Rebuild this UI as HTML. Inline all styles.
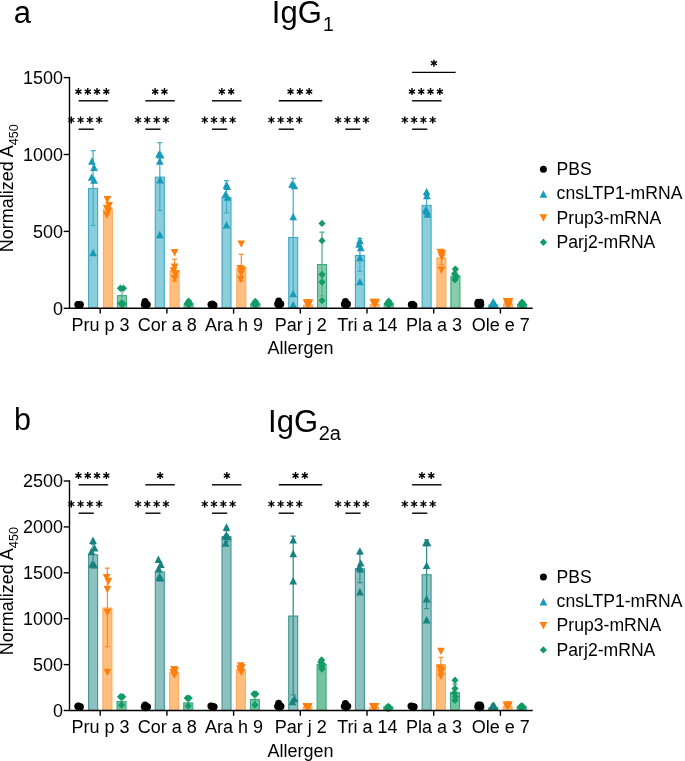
<!DOCTYPE html>
<html lang="en"><head><meta charset="utf-8"><title>IgG1 / IgG2a normalized A450 by allergen</title>
<style>html,body{margin:0;padding:0;background:#fff}body{width:685px;height:761px;overflow:hidden}svg{display:block;will-change:transform}text{font-family:'Liberation Sans', sans-serif;fill:#000}</style>
</head><body>
<svg width="685" height="761" viewBox="0 0 685 761">
<rect width="685" height="761" fill="#fff"/>
<text x="13.7" y="22.5" font-size="31">a</text>
<text x="13.9" y="430.2" font-size="30.5">b</text>
<text x="271.8" y="23.2" font-size="31">IgG<tspan font-size="19.4" dy="8" dx="1.2">1</tspan></text>
<text x="268.1" y="431.6" font-size="31">IgG<tspan font-size="20" dy="8.1" dx="0.6">2a</tspan></text>
<circle cx="77.8" cy="304.61" r="3.5" fill="#000000"/>
<circle cx="80.4" cy="304.61" r="3.5" fill="#000000"/>
<circle cx="79.1" cy="304.92" r="3.5" fill="#000000"/>
<circle cx="78.5" cy="305.53" r="3.5" fill="#000000"/>
<circle cx="79.7" cy="305.53" r="3.5" fill="#000000"/>
<rect x="88.6" y="188.42" width="9" height="119.88" fill="#8ACEDB" stroke="#3FA8C2" stroke-width="1.1"/>
<path d="M93.1 150.5V225.25M90.6 150.5H95.6M90.6 225.25H95.6" stroke="#45AECA" stroke-width="1.25" fill="none" opacity="1"/>
<path d="M91.9 157.32L95.75 164.72L88.05 164.72Z" fill="#189BB9"/>
<path d="M94.1 163.63L97.95 171.03L90.25 171.03Z" fill="#189BB9"/>
<path d="M91.6 173.47L95.45 180.87L87.75 180.87Z" fill="#189BB9"/>
<path d="M94.1 176.24L97.95 183.64L90.25 183.64Z" fill="#189BB9"/>
<path d="M93.1 248.83L96.95 256.23L89.25 256.23Z" fill="#189BB9"/>
<rect x="103.4" y="209.19" width="9" height="99.11" fill="#FEBF7E" stroke="#FDAA5E" stroke-width="1.1"/>
<path d="M107.9 202.79V214.48M105.4 202.79H110.4M105.4 214.48H110.4" stroke="#FB8F2E" stroke-width="1.25" fill="none" opacity="1"/>
<path d="M107.4 203.51L111.25 196.11L103.55 196.11Z" fill="#FF7F0E"/>
<path d="M109.2 209.35L113.05 201.95L105.35 201.95Z" fill="#FF7F0E"/>
<path d="M106.7 212.12L110.55 204.72L102.85 204.72Z" fill="#FF7F0E"/>
<path d="M108.4 214.74L112.25 207.34L104.55 207.34Z" fill="#FF7F0E"/>
<path d="M106.7 218.89L110.55 211.49L102.85 211.49Z" fill="#FF7F0E"/>
<rect x="117.4" y="295.62" width="9" height="12.68" fill="#86CBAD" stroke="#3BAA7C" stroke-width="1.1"/>
<path d="M121.9 288.15V301.99M119.4 288.15H124.4M119.4 301.99H124.4" stroke="#4DB289" stroke-width="1.25" fill="none" opacity="1"/>
<path d="M120.4 284.61L124 288.31L120.4 292.01L116.8 288.31Z" fill="#119C66"/>
<path d="M123.4 284.61L127 288.31L123.4 292.01L119.8 288.31Z" fill="#119C66"/>
<path d="M120.9 299.68L124.5 303.38L120.9 307.08L117.3 303.38Z" fill="#119C66"/>
<path d="M122.9 299.99L126.5 303.69L122.9 307.39L119.3 303.69Z" fill="#119C66"/>
<path d="M121.9 300.29L125.5 303.99L121.9 307.69L118.3 303.99Z" fill="#119C66"/>
<circle cx="145" cy="301.38" r="3.5" fill="#000000"/>
<circle cx="144.3" cy="304.45" r="3.5" fill="#000000"/>
<circle cx="147.3" cy="304.45" r="3.5" fill="#000000"/>
<circle cx="145.8" cy="305.53" r="3.5" fill="#000000"/>
<rect x="155.3" y="177.2" width="9" height="131.1" fill="#8ACEDB" stroke="#3FA8C2" stroke-width="1.1"/>
<path d="M159.8 142.66V210.64M157.3 142.66H162.3M157.3 210.64H162.3" stroke="#45AECA" stroke-width="1.25" fill="none" opacity="1"/>
<path d="M159 150.4L162.85 157.8L155.15 157.8Z" fill="#189BB9"/>
<path d="M160.6 151.02L164.45 158.42L156.75 158.42Z" fill="#189BB9"/>
<path d="M159.8 157.32L163.65 164.72L155.95 164.72Z" fill="#189BB9"/>
<path d="M160.1 176.08L163.95 183.48L156.25 183.48Z" fill="#189BB9"/>
<path d="M159.8 230.84L163.65 238.24L155.95 238.24Z" fill="#189BB9"/>
<rect x="170.1" y="270.55" width="9" height="37.75" fill="#FEBF7E" stroke="#FDAA5E" stroke-width="1.1"/>
<path d="M174.6 259.08V280.92M172.1 259.08H177.1M172.1 280.92H177.1" stroke="#FB8F2E" stroke-width="1.25" fill="none" opacity="1"/>
<path d="M174.6 256.42L178.45 249.02L170.75 249.02Z" fill="#FF7F0E"/>
<path d="M174.6 270.87L178.45 263.47L170.75 263.47Z" fill="#FF7F0E"/>
<path d="M173.6 274.72L177.45 267.32L169.75 267.32Z" fill="#FF7F0E"/>
<path d="M175.6 277.8L179.45 270.39L171.75 270.39Z" fill="#FF7F0E"/>
<path d="M174.6 282.41L178.45 275.01L170.75 275.01Z" fill="#FF7F0E"/>
<rect x="184.1" y="304.24" width="9" height="4.06" fill="#86CBAD" stroke="#3BAA7C" stroke-width="1.1"/>
<path d="M188.6 302.15V305.22M186.1 302.15H191.1M186.1 305.22H191.1" stroke="#4DB289" stroke-width="1.25" fill="none" opacity="1"/>
<path d="M188.6 297.53L192.2 301.23L188.6 304.93L185 301.23Z" fill="#119C66"/>
<path d="M187.2 299.68L190.8 303.38L187.2 307.08L183.6 303.38Z" fill="#119C66"/>
<path d="M190 299.68L193.6 303.38L190 307.08L186.4 303.38Z" fill="#119C66"/>
<path d="M187.9 300.6L191.5 304.3L187.9 308L184.3 304.3Z" fill="#119C66"/>
<path d="M189.3 300.6L192.9 304.3L189.3 308L185.7 304.3Z" fill="#119C66"/>
<circle cx="211" cy="304.45" r="3.5" fill="#000000"/>
<circle cx="214" cy="305.22" r="3.5" fill="#000000"/>
<circle cx="212.5" cy="303.99" r="3.5" fill="#000000"/>
<circle cx="211.75" cy="304.92" r="3.5" fill="#000000"/>
<circle cx="213.25" cy="305.53" r="3.5" fill="#000000"/>
<rect x="222" y="197.35" width="9" height="110.95" fill="#8ACEDB" stroke="#3FA8C2" stroke-width="1.1"/>
<path d="M226.5 180.65V212.94M224 180.65H229M224 212.94H229" stroke="#45AECA" stroke-width="1.25" fill="none" opacity="1"/>
<path d="M226.5 181.16L230.35 188.56L222.65 188.56Z" fill="#189BB9"/>
<path d="M227.3 182.7L231.15 190.1L223.45 190.1Z" fill="#189BB9"/>
<path d="M225.5 190.39L229.35 197.79L221.65 197.79Z" fill="#189BB9"/>
<path d="M227.5 193.46L231.35 200.86L223.65 200.86Z" fill="#189BB9"/>
<path d="M226.5 221.15L230.35 228.55L222.65 228.55Z" fill="#189BB9"/>
<rect x="236.8" y="268.09" width="9" height="40.21" fill="#FEBF7E" stroke="#FDAA5E" stroke-width="1.1"/>
<path d="M241.3 254.47V280.62M238.8 254.47H243.8M238.8 280.62H243.8" stroke="#FB8F2E" stroke-width="1.25" fill="none" opacity="1"/>
<path d="M241.3 247.8L245.15 240.4L237.45 240.4Z" fill="#FF7F0E"/>
<path d="M240.3 272.41L244.15 265.01L236.45 265.01Z" fill="#FF7F0E"/>
<path d="M242.3 273.95L246.15 266.55L238.45 266.55Z" fill="#FF7F0E"/>
<path d="M241.3 277.03L245.15 269.63L237.45 269.63Z" fill="#FF7F0E"/>
<path d="M240.8 283.18L244.65 275.78L236.95 275.78Z" fill="#FF7F0E"/>
<rect x="250.8" y="304.24" width="9" height="4.06" fill="#86CBAD" stroke="#3BAA7C" stroke-width="1.1"/>
<path d="M255.3 302.15V305.22M252.8 302.15H257.8M252.8 305.22H257.8" stroke="#4DB289" stroke-width="1.25" fill="none" opacity="1"/>
<path d="M255.3 297.83L258.9 301.53L255.3 305.23L251.7 301.53Z" fill="#119C66"/>
<path d="M253.9 299.99L257.5 303.69L253.9 307.39L250.3 303.69Z" fill="#119C66"/>
<path d="M256.7 299.99L260.3 303.69L256.7 307.39L253.1 303.69Z" fill="#119C66"/>
<path d="M254.6 300.91L258.2 304.61L254.6 308.31L251 304.61Z" fill="#119C66"/>
<path d="M256 300.91L259.6 304.61L256 308.31L252.4 304.61Z" fill="#119C66"/>
<circle cx="278.7" cy="300.92" r="3.5" fill="#000000"/>
<circle cx="277.6" cy="303.99" r="3.5" fill="#000000"/>
<circle cx="280.8" cy="303.99" r="3.5" fill="#000000"/>
<circle cx="279.2" cy="305.53" r="3.5" fill="#000000"/>
<rect x="288.7" y="237.49" width="9" height="70.81" fill="#8ACEDB" stroke="#3FA8C2" stroke-width="1.1"/>
<path d="M293.2 178.34V295.53M290.7 178.34H295.7M290.7 295.53H295.7" stroke="#45AECA" stroke-width="1.25" fill="none" opacity="1"/>
<path d="M292 180.39L295.85 187.79L288.15 187.79Z" fill="#189BB9"/>
<path d="M294.3 181.93L298.15 189.33L290.45 189.33Z" fill="#189BB9"/>
<path d="M293.2 212.84L297.05 220.24L289.35 220.24Z" fill="#189BB9"/>
<path d="M293.2 289.9L297.05 297.3L289.35 297.3Z" fill="#189BB9"/>
<path d="M293.2 300.97L297.05 308.37L289.35 308.37Z" fill="#189BB9"/>
<rect x="303.5" y="305" width="9" height="3.3" fill="#FEBF7E" stroke="#FDAA5E" stroke-width="1.1"/>
<path d="M308 303.22V305.69M305.5 303.22H310.5M305.5 305.69H310.5" stroke="#FB8F2E" stroke-width="1.25" fill="none" opacity="1"/>
<path d="M306.6 306.56L310.45 299.16L302.75 299.16Z" fill="#FF7F0E"/>
<path d="M309.4 306.56L313.25 299.16L305.55 299.16Z" fill="#FF7F0E"/>
<path d="M308 307.02L311.85 299.62L304.15 299.62Z" fill="#FF7F0E"/>
<path d="M307.3 307.79L311.15 300.39L303.45 300.39Z" fill="#FF7F0E"/>
<path d="M308.7 308.09L312.55 300.69L304.85 300.69Z" fill="#FF7F0E"/>
<rect x="317.5" y="264.56" width="9" height="43.74" fill="#86CBAD" stroke="#3BAA7C" stroke-width="1.1"/>
<path d="M322 232.17V295.84M319.5 232.17H324.5M319.5 295.84H324.5" stroke="#4DB289" stroke-width="1.25" fill="none" opacity="1"/>
<path d="M322 219.7L325.6 223.4L322 227.1L318.4 223.4Z" fill="#119C66"/>
<path d="M322 236.93L325.6 240.63L322 244.33L318.4 240.63Z" fill="#119C66"/>
<path d="M322 270.76L325.6 274.46L322 278.16L318.4 274.46Z" fill="#119C66"/>
<path d="M322 278.3L325.6 282L322 285.7L318.4 282Z" fill="#119C66"/>
<path d="M322 296.91L325.6 300.61L322 304.31L318.4 300.61Z" fill="#119C66"/>
<circle cx="345.4" cy="301.38" r="3.5" fill="#000000"/>
<circle cx="344.3" cy="303.99" r="3.5" fill="#000000"/>
<circle cx="347.5" cy="303.99" r="3.5" fill="#000000"/>
<circle cx="345.9" cy="305.53" r="3.5" fill="#000000"/>
<rect x="355.4" y="255.48" width="9" height="52.82" fill="#8ACEDB" stroke="#3FA8C2" stroke-width="1.1"/>
<path d="M359.9 238.47V271.39M357.4 238.47H362.4M357.4 271.39H362.4" stroke="#45AECA" stroke-width="1.25" fill="none" opacity="1"/>
<path d="M359.9 236.84L363.75 244.24L356.05 244.24Z" fill="#189BB9"/>
<path d="M359.1 240.37L362.95 247.77L355.25 247.77Z" fill="#189BB9"/>
<path d="M360.7 243.91L364.55 251.31L356.85 251.31Z" fill="#189BB9"/>
<path d="M359.9 253.91L363.75 261.31L356.05 261.31Z" fill="#189BB9"/>
<path d="M359.9 277.9L363.75 285.3L356.05 285.3Z" fill="#189BB9"/>
<rect x="370.2" y="304.24" width="9" height="4.06" fill="#FEBF7E" stroke="#FDAA5E" stroke-width="1.1"/>
<path d="M374.7 302.46V304.92M372.2 302.46H377.2M372.2 304.92H377.2" stroke="#FB8F2E" stroke-width="1.25" fill="none" opacity="1"/>
<path d="M373.3 306.25L377.15 298.85L369.45 298.85Z" fill="#FF7F0E"/>
<path d="M376.1 306.25L379.95 298.85L372.25 298.85Z" fill="#FF7F0E"/>
<path d="M374.7 306.71L378.55 299.31L370.85 299.31Z" fill="#FF7F0E"/>
<path d="M374 307.48L377.85 300.08L370.15 300.08Z" fill="#FF7F0E"/>
<path d="M375.4 307.79L379.25 300.39L371.55 300.39Z" fill="#FF7F0E"/>
<rect x="384.2" y="303.93" width="9" height="4.37" fill="#86CBAD" stroke="#3BAA7C" stroke-width="1.1"/>
<path d="M388.7 301.84V304.92M386.2 301.84H391.2M386.2 304.92H391.2" stroke="#4DB289" stroke-width="1.25" fill="none" opacity="1"/>
<path d="M388.7 297.53L392.3 301.23L388.7 304.93L385.1 301.23Z" fill="#119C66"/>
<path d="M387.3 299.68L390.9 303.38L387.3 307.08L383.7 303.38Z" fill="#119C66"/>
<path d="M390.1 299.68L393.7 303.38L390.1 307.08L386.5 303.38Z" fill="#119C66"/>
<path d="M388 300.6L391.6 304.3L388 308L384.4 304.3Z" fill="#119C66"/>
<path d="M389.4 300.6L393 304.3L389.4 308L385.8 304.3Z" fill="#119C66"/>
<circle cx="411.3" cy="304.45" r="3.5" fill="#000000"/>
<circle cx="413.9" cy="305.22" r="3.5" fill="#000000"/>
<circle cx="412.6" cy="304.3" r="3.5" fill="#000000"/>
<circle cx="411.95" cy="304.92" r="3.5" fill="#000000"/>
<circle cx="413.25" cy="305.53" r="3.5" fill="#000000"/>
<rect x="422.1" y="205.34" width="9" height="102.96" fill="#8ACEDB" stroke="#3FA8C2" stroke-width="1.1"/>
<path d="M426.6 195.26V214.33M424.1 195.26H429.1M424.1 214.33H429.1" stroke="#45AECA" stroke-width="1.25" fill="none" opacity="1"/>
<path d="M426.6 187.93L430.45 195.33L422.75 195.33Z" fill="#189BB9"/>
<path d="M426.9 191.93L430.75 199.33L423.05 199.33Z" fill="#189BB9"/>
<path d="M425.8 205.77L429.65 213.17L421.95 213.17Z" fill="#189BB9"/>
<path d="M427.4 210.38L431.25 217.78L423.55 217.78Z" fill="#189BB9"/>
<path d="M426.8 207.31L430.65 214.71L422.95 214.71Z" fill="#189BB9"/>
<rect x="436.9" y="257.94" width="9" height="50.36" fill="#FEBF7E" stroke="#FDAA5E" stroke-width="1.1"/>
<path d="M441.4 250.47V264.31M438.9 250.47H443.9M438.9 264.31H443.9" stroke="#FB8F2E" stroke-width="1.25" fill="none" opacity="1"/>
<path d="M440.4 256.26L444.25 248.86L436.55 248.86Z" fill="#FF7F0E"/>
<path d="M442.4 257.03L446.25 249.63L438.55 249.63Z" fill="#FF7F0E"/>
<path d="M441.4 259.34L445.25 251.94L437.55 251.94Z" fill="#FF7F0E"/>
<path d="M441.4 273.95L445.25 266.55L437.55 266.55Z" fill="#FF7F0E"/>
<path d="M441.9 260.88L445.75 253.48L438.05 253.48Z" fill="#FF7F0E"/>
<rect x="450.9" y="276.09" width="9" height="32.21" fill="#86CBAD" stroke="#3BAA7C" stroke-width="1.1"/>
<path d="M455.4 270.93V280.15M452.9 270.93H457.9M452.9 280.15H457.9" stroke="#4DB289" stroke-width="1.25" fill="none" opacity="1"/>
<path d="M455.4 265.38L459 269.08L455.4 272.78L451.8 269.08Z" fill="#119C66"/>
<path d="M454.6 270L458.2 273.69L454.6 277.39L451 273.69Z" fill="#119C66"/>
<path d="M456.2 272.3L459.8 276L456.2 279.7L452.6 276Z" fill="#119C66"/>
<path d="M455.4 274.61L459 278.31L455.4 282.01L451.8 278.31Z" fill="#119C66"/>
<path d="M454.9 276.15L458.5 279.85L454.9 283.55L451.3 279.85Z" fill="#119C66"/>
<circle cx="478" cy="302.15" r="3.5" fill="#000000"/>
<circle cx="480.6" cy="302.15" r="3.5" fill="#000000"/>
<circle cx="477.8" cy="304.45" r="3.5" fill="#000000"/>
<circle cx="480.8" cy="304.45" r="3.5" fill="#000000"/>
<circle cx="479.3" cy="305.53" r="3.5" fill="#000000"/>
<rect x="488.8" y="305" width="9" height="3.3" fill="#8ACEDB" stroke="#3FA8C2" stroke-width="1.1"/>
<path d="M493.3 303.22V305.69M490.8 303.22H495.8M490.8 305.69H495.8" stroke="#45AECA" stroke-width="1.25" fill="none" opacity="1"/>
<path d="M493.3 298.05L497.15 305.45L489.45 305.45Z" fill="#189BB9"/>
<path d="M492.1 299.89L495.95 307.29L488.25 307.29Z" fill="#189BB9"/>
<path d="M494.5 299.89L498.35 307.29L490.65 307.29Z" fill="#189BB9"/>
<path d="M493.3 300.82L497.15 308.22L489.45 308.22Z" fill="#189BB9"/>
<rect x="503.6" y="303.93" width="9" height="4.37" fill="#FEBF7E" stroke="#FDAA5E" stroke-width="1.1"/>
<path d="M508.1 302.15V304.61M505.6 302.15H510.6M505.6 304.61H510.6" stroke="#FB8F2E" stroke-width="1.25" fill="none" opacity="1"/>
<path d="M506.6 305.48L510.45 298.08L502.75 298.08Z" fill="#FF7F0E"/>
<path d="M509.6 305.48L513.45 298.08L505.75 298.08Z" fill="#FF7F0E"/>
<path d="M508.1 306.56L511.95 299.16L504.25 299.16Z" fill="#FF7F0E"/>
<path d="M507.2 308.09L511.05 300.69L503.35 300.69Z" fill="#FF7F0E"/>
<path d="M509 308.71L512.85 301.31L505.15 301.31Z" fill="#FF7F0E"/>
<rect x="517.6" y="304.54" width="9" height="3.76" fill="#86CBAD" stroke="#3BAA7C" stroke-width="1.1"/>
<path d="M522.1 302.76V305.22M519.6 302.76H524.6M519.6 305.22H524.6" stroke="#4DB289" stroke-width="1.25" fill="none" opacity="1"/>
<path d="M522.1 298.45L525.7 302.15L522.1 305.85L518.5 302.15Z" fill="#119C66"/>
<path d="M520.7 300.6L524.3 304.3L520.7 308L517.1 304.3Z" fill="#119C66"/>
<path d="M523.5 300.6L527.1 304.3L523.5 308L519.9 304.3Z" fill="#119C66"/>
<path d="M521.4 301.52L525 305.22L521.4 308.92L517.8 305.22Z" fill="#119C66"/>
<path d="M522.8 301.52L526.4 305.22L522.8 308.92L519.2 305.22Z" fill="#119C66"/>
<path d="M69.5 77.6V308.3H532" stroke="#000" stroke-width="1.4" fill="none" stroke-linecap="square"/>
<path d="M63.7 308.3H69.5" stroke="#000" stroke-width="1.4"/>
<text x="63.1" y="314.6" font-size="18" text-anchor="end">0</text>
<path d="M63.7 231.4H69.5" stroke="#000" stroke-width="1.4"/>
<text x="63.1" y="237.7" font-size="18" text-anchor="end">500</text>
<path d="M63.7 154.5H69.5" stroke="#000" stroke-width="1.4"/>
<text x="63.1" y="160.8" font-size="18" text-anchor="end">1000</text>
<path d="M63.7 77.6H69.5" stroke="#000" stroke-width="1.4"/>
<text x="63.1" y="83.9" font-size="18" text-anchor="end">1500</text>
<path d="M100.2 308.3V313.6" stroke="#000" stroke-width="1.4"/>
<text x="100.6" y="330.8" font-size="18" text-anchor="middle">Pru p 3</text>
<path d="M166.9 308.3V313.6" stroke="#000" stroke-width="1.4"/>
<text x="167.3" y="330.8" font-size="18" text-anchor="middle">Cor a 8</text>
<path d="M233.6 308.3V313.6" stroke="#000" stroke-width="1.4"/>
<text x="234" y="330.8" font-size="18" text-anchor="middle">Ara h 9</text>
<path d="M300.3 308.3V313.6" stroke="#000" stroke-width="1.4"/>
<text x="300.7" y="330.8" font-size="18" text-anchor="middle">Par j 2</text>
<path d="M367 308.3V313.6" stroke="#000" stroke-width="1.4"/>
<text x="367.4" y="330.8" font-size="18" text-anchor="middle">Tri a 14</text>
<path d="M433.7 308.3V313.6" stroke="#000" stroke-width="1.4"/>
<text x="434.1" y="330.8" font-size="18" text-anchor="middle">Pla a 3</text>
<path d="M500.4 308.3V313.6" stroke="#000" stroke-width="1.4"/>
<text x="500.8" y="330.8" font-size="18" text-anchor="middle">Ole e 7</text>
<text x="300.4" y="354.4" font-size="18" text-anchor="middle">Allergen</text>
<text transform="translate(13.1 252.3) rotate(-90)" font-size="18">Normalized A<tspan font-size="12.7" dy="5">450</tspan></text>
<path d="M78.6 129.2H93.8" stroke="#000" stroke-width="1.4"/>
<path d="M71.3 116.5L71.3 123.5M68.27 118.25L74.33 121.75M68.27 121.75L74.33 118.25" stroke="#000" stroke-width="1.4" fill="none"/>
<path d="M80.6 116.5L80.6 123.5M77.57 118.25L83.63 121.75M77.57 121.75L83.63 118.25" stroke="#000" stroke-width="1.4" fill="none"/>
<path d="M89.9 116.5L89.9 123.5M86.87 118.25L92.93 121.75M86.87 121.75L92.93 118.25" stroke="#000" stroke-width="1.4" fill="none"/>
<path d="M99.2 116.5L99.2 123.5M96.17 118.25L102.23 121.75M96.17 121.75L102.23 118.25" stroke="#000" stroke-width="1.4" fill="none"/>
<path d="M78.6 100.8H108.1" stroke="#000" stroke-width="1.4"/>
<path d="M78.45 88.1L78.45 95.1M75.42 89.85L81.48 93.35M75.42 93.35L81.48 89.85" stroke="#000" stroke-width="1.4" fill="none"/>
<path d="M87.75 88.1L87.75 95.1M84.72 89.85L90.78 93.35M84.72 93.35L90.78 89.85" stroke="#000" stroke-width="1.4" fill="none"/>
<path d="M97.05 88.1L97.05 95.1M94.02 89.85L100.08 93.35M94.02 93.35L100.08 89.85" stroke="#000" stroke-width="1.4" fill="none"/>
<path d="M106.35 88.1L106.35 95.1M103.32 89.85L109.38 93.35M103.32 93.35L109.38 89.85" stroke="#000" stroke-width="1.4" fill="none"/>
<path d="M145.3 129.2H160.5" stroke="#000" stroke-width="1.4"/>
<path d="M138 116.5L138 123.5M134.97 118.25L141.03 121.75M134.97 121.75L141.03 118.25" stroke="#000" stroke-width="1.4" fill="none"/>
<path d="M147.3 116.5L147.3 123.5M144.27 118.25L150.33 121.75M144.27 121.75L150.33 118.25" stroke="#000" stroke-width="1.4" fill="none"/>
<path d="M156.6 116.5L156.6 123.5M153.57 118.25L159.63 121.75M153.57 121.75L159.63 118.25" stroke="#000" stroke-width="1.4" fill="none"/>
<path d="M165.9 116.5L165.9 123.5M162.87 118.25L168.93 121.75M162.87 121.75L168.93 118.25" stroke="#000" stroke-width="1.4" fill="none"/>
<path d="M145.3 100.8H174.8" stroke="#000" stroke-width="1.4"/>
<path d="M155.15 88.1L155.15 95.1M152.12 89.85L158.18 93.35M152.12 93.35L158.18 89.85" stroke="#000" stroke-width="1.4" fill="none"/>
<path d="M164.45 88.1L164.45 95.1M161.42 89.85L167.48 93.35M161.42 93.35L167.48 89.85" stroke="#000" stroke-width="1.4" fill="none"/>
<path d="M212 129.2H227.2" stroke="#000" stroke-width="1.4"/>
<path d="M204.7 116.5L204.7 123.5M201.67 118.25L207.73 121.75M201.67 121.75L207.73 118.25" stroke="#000" stroke-width="1.4" fill="none"/>
<path d="M214 116.5L214 123.5M210.97 118.25L217.03 121.75M210.97 121.75L217.03 118.25" stroke="#000" stroke-width="1.4" fill="none"/>
<path d="M223.3 116.5L223.3 123.5M220.27 118.25L226.33 121.75M220.27 121.75L226.33 118.25" stroke="#000" stroke-width="1.4" fill="none"/>
<path d="M232.6 116.5L232.6 123.5M229.57 118.25L235.63 121.75M229.57 121.75L235.63 118.25" stroke="#000" stroke-width="1.4" fill="none"/>
<path d="M212 100.8H241.5" stroke="#000" stroke-width="1.4"/>
<path d="M221.85 88.1L221.85 95.1M218.82 89.85L224.88 93.35M218.82 93.35L224.88 89.85" stroke="#000" stroke-width="1.4" fill="none"/>
<path d="M231.15 88.1L231.15 95.1M228.12 89.85L234.18 93.35M228.12 93.35L234.18 89.85" stroke="#000" stroke-width="1.4" fill="none"/>
<path d="M278.7 129.2H293.9" stroke="#000" stroke-width="1.4"/>
<path d="M271.4 116.5L271.4 123.5M268.37 118.25L274.43 121.75M268.37 121.75L274.43 118.25" stroke="#000" stroke-width="1.4" fill="none"/>
<path d="M280.7 116.5L280.7 123.5M277.67 118.25L283.73 121.75M277.67 121.75L283.73 118.25" stroke="#000" stroke-width="1.4" fill="none"/>
<path d="M290 116.5L290 123.5M286.97 118.25L293.03 121.75M286.97 121.75L293.03 118.25" stroke="#000" stroke-width="1.4" fill="none"/>
<path d="M299.3 116.5L299.3 123.5M296.27 118.25L302.33 121.75M296.27 121.75L302.33 118.25" stroke="#000" stroke-width="1.4" fill="none"/>
<path d="M278.7 100.8H322.2" stroke="#000" stroke-width="1.4"/>
<path d="M290.55 88.1L290.55 95.1M287.52 89.85L293.58 93.35M287.52 93.35L293.58 89.85" stroke="#000" stroke-width="1.4" fill="none"/>
<path d="M299.85 88.1L299.85 95.1M296.82 89.85L302.88 93.35M296.82 93.35L302.88 89.85" stroke="#000" stroke-width="1.4" fill="none"/>
<path d="M309.15 88.1L309.15 95.1M306.12 89.85L312.18 93.35M306.12 93.35L312.18 89.85" stroke="#000" stroke-width="1.4" fill="none"/>
<path d="M345.4 129.2H360.6" stroke="#000" stroke-width="1.4"/>
<path d="M338.1 116.5L338.1 123.5M335.07 118.25L341.13 121.75M335.07 121.75L341.13 118.25" stroke="#000" stroke-width="1.4" fill="none"/>
<path d="M347.4 116.5L347.4 123.5M344.37 118.25L350.43 121.75M344.37 121.75L350.43 118.25" stroke="#000" stroke-width="1.4" fill="none"/>
<path d="M356.7 116.5L356.7 123.5M353.67 118.25L359.73 121.75M353.67 121.75L359.73 118.25" stroke="#000" stroke-width="1.4" fill="none"/>
<path d="M366 116.5L366 123.5M362.97 118.25L369.03 121.75M362.97 121.75L369.03 118.25" stroke="#000" stroke-width="1.4" fill="none"/>
<path d="M412.1 129.2H427.3" stroke="#000" stroke-width="1.4"/>
<path d="M404.8 116.5L404.8 123.5M401.77 118.25L407.83 121.75M401.77 121.75L407.83 118.25" stroke="#000" stroke-width="1.4" fill="none"/>
<path d="M414.1 116.5L414.1 123.5M411.07 118.25L417.13 121.75M411.07 121.75L417.13 118.25" stroke="#000" stroke-width="1.4" fill="none"/>
<path d="M423.4 116.5L423.4 123.5M420.37 118.25L426.43 121.75M420.37 121.75L426.43 118.25" stroke="#000" stroke-width="1.4" fill="none"/>
<path d="M432.7 116.5L432.7 123.5M429.67 118.25L435.73 121.75M429.67 121.75L435.73 118.25" stroke="#000" stroke-width="1.4" fill="none"/>
<path d="M412.1 100.8H441.6" stroke="#000" stroke-width="1.4"/>
<path d="M411.95 88.1L411.95 95.1M408.92 89.85L414.98 93.35M408.92 93.35L414.98 89.85" stroke="#000" stroke-width="1.4" fill="none"/>
<path d="M421.25 88.1L421.25 95.1M418.22 89.85L424.28 93.35M418.22 93.35L424.28 89.85" stroke="#000" stroke-width="1.4" fill="none"/>
<path d="M430.55 88.1L430.55 95.1M427.52 89.85L433.58 93.35M427.52 93.35L433.58 89.85" stroke="#000" stroke-width="1.4" fill="none"/>
<path d="M439.85 88.1L439.85 95.1M436.82 89.85L442.88 93.35M436.82 93.35L442.88 89.85" stroke="#000" stroke-width="1.4" fill="none"/>
<path d="M412.1 72.4H455.6" stroke="#000" stroke-width="1.4"/>
<path d="M433.95 59.7L433.95 66.7M430.92 61.45L436.98 64.95M430.92 64.95L436.98 61.45" stroke="#000" stroke-width="1.4" fill="none"/>
<text x="556.6" y="174.8" font-size="17.6">PBS</text>
<circle cx="543.4" cy="169.3" r="3.5" fill="#000"/>
<text x="556.6" y="199.2" font-size="17.6">cnsLTP1-mRNA</text>
<path d="M543.4 190.3L547.25 197.7L539.55 197.7Z" fill="#189BB9"/>
<text x="556.6" y="223.6" font-size="17.6">Prup3-mRNA</text>
<path d="M543.4 221.7L547.25 214.3L539.55 214.3Z" fill="#FF7F0E"/>
<text x="556.6" y="248" font-size="17.6">Parj2-mRNA</text>
<path d="M543.4 238.5L547 242.2L543.4 245.9L539.8 242.2Z" fill="#119C66"/>
<circle cx="77.8" cy="706.37" r="3.5" fill="#000000"/>
<circle cx="80.4" cy="706.83" r="3.5" fill="#000000"/>
<circle cx="79.1" cy="707.29" r="3.5" fill="#000000"/>
<circle cx="78.45" cy="705.91" r="3.5" fill="#000000"/>
<circle cx="79.75" cy="707.01" r="3.5" fill="#000000"/>
<rect x="88.6" y="554.81" width="9" height="155.69" fill="#8CC1BF" stroke="#3C9693" stroke-width="1.1"/>
<path d="M93.1 544.16V564.35M90.6 544.16H95.6M90.6 564.35H95.6" stroke="#2F908D" stroke-width="1.25" fill="none" opacity="1"/>
<path d="M93 536.57L96.85 543.97L89.15 543.97Z" fill="#17827F"/>
<path d="M94.6 544.19L98.45 551.59L90.75 551.59Z" fill="#17827F"/>
<path d="M91.5 547.59L95.35 554.99L87.65 554.99Z" fill="#17827F"/>
<path d="M92.1 560.44L95.95 567.84L88.25 567.84Z" fill="#17827F"/>
<path d="M94.1 560.99L97.95 568.39L90.25 568.39Z" fill="#17827F"/>
<rect x="102.9" y="608.05" width="9" height="102.45" fill="#FEBF7E" stroke="#FDAA5E" stroke-width="1.1"/>
<path d="M107.4 568.03V646.97M104.9 568.03H109.9M104.9 646.97H109.9" stroke="#FB8F2E" stroke-width="1.25" fill="none" opacity="1"/>
<path d="M106.6 581.31L110.45 573.91L102.75 573.91Z" fill="#FF7F0E"/>
<path d="M108.4 585.25L112.25 577.85L104.55 577.85Z" fill="#FF7F0E"/>
<path d="M107.4 593.24L111.25 585.84L103.55 585.84Z" fill="#FF7F0E"/>
<path d="M107.4 616.19L111.25 608.79L103.55 608.79Z" fill="#FF7F0E"/>
<path d="M107.4 676.04L111.25 668.64L103.55 668.64Z" fill="#FF7F0E"/>
<rect x="117" y="701.5" width="9" height="9" fill="#72C3A0" stroke="#3BAA7C" stroke-width="1.1"/>
<path d="M121.5 696.36V705.54M119 696.36H124M119 705.54H124" stroke="#2FA577" stroke-width="1.25" fill="none" opacity="1"/>
<path d="M120.5 693.03L124.1 696.73L120.5 700.43L116.9 696.73Z" fill="#119C66"/>
<path d="M122.7 693.03L126.3 696.73L122.7 700.43L119.1 696.73Z" fill="#119C66"/>
<path d="M121.5 701.29L125.1 704.99L121.5 708.69L117.9 704.99Z" fill="#119C66"/>
<circle cx="145" cy="704.99" r="3.5" fill="#000000"/>
<circle cx="144.3" cy="706.83" r="3.5" fill="#000000"/>
<circle cx="147.6" cy="706.83" r="3.5" fill="#000000"/>
<circle cx="145.8" cy="707.75" r="3.5" fill="#000000"/>
<rect x="155.3" y="571.97" width="9" height="138.53" fill="#8CC1BF" stroke="#3C9693" stroke-width="1.1"/>
<path d="M159.8 562.24V580.6M157.3 562.24H162.3M157.3 580.6H162.3" stroke="#2F908D" stroke-width="1.25" fill="none" opacity="1"/>
<path d="M158.4 555.48L162.25 562.88L154.55 562.88Z" fill="#17827F"/>
<path d="M160.9 560.62L164.75 568.02L157.05 568.02Z" fill="#17827F"/>
<path d="M158.6 564.94L162.45 572.34L154.75 572.34Z" fill="#17827F"/>
<path d="M159.2 573.29L163.05 580.69L155.35 580.69Z" fill="#17827F"/>
<path d="M160.6 574.21L164.45 581.61L156.75 581.61Z" fill="#17827F"/>
<rect x="169.6" y="672.49" width="9" height="38.01" fill="#FEBF7E" stroke="#FDAA5E" stroke-width="1.1"/>
<path d="M174.1 669.19V674.7M171.6 669.19H176.6M171.6 674.7H176.6" stroke="#FB8F2E" stroke-width="1.25" fill="none" opacity="1"/>
<path d="M174.1 673.29L177.95 665.89L170.25 665.89Z" fill="#FF7F0E"/>
<path d="M175.1 674.67L178.95 667.27L171.25 667.27Z" fill="#FF7F0E"/>
<path d="M173.1 676.04L176.95 668.64L169.25 668.64Z" fill="#FF7F0E"/>
<path d="M174.1 677.88L177.95 670.48L170.25 670.48Z" fill="#FF7F0E"/>
<path d="M174.6 678.8L178.45 671.4L170.75 671.4Z" fill="#FF7F0E"/>
<rect x="183.7" y="702.88" width="9" height="7.62" fill="#72C3A0" stroke="#3BAA7C" stroke-width="1.1"/>
<path d="M188.2 698.66V706M185.7 698.66H190.7M185.7 706H190.7" stroke="#2FA577" stroke-width="1.25" fill="none" opacity="1"/>
<path d="M187.2 694.41L190.8 698.11L187.2 701.81L183.6 698.11Z" fill="#119C66"/>
<path d="M189.2 694.41L192.8 698.11L189.2 701.81L185.6 698.11Z" fill="#119C66"/>
<path d="M188.2 702.21L191.8 705.91L188.2 709.61L184.6 705.91Z" fill="#119C66"/>
<circle cx="210.9" cy="705.91" r="3.5" fill="#000000"/>
<circle cx="214.1" cy="706.83" r="3.5" fill="#000000"/>
<circle cx="212.5" cy="707.29" r="3.5" fill="#000000"/>
<circle cx="211.7" cy="706.37" r="3.5" fill="#000000"/>
<circle cx="213.3" cy="707.01" r="3.5" fill="#000000"/>
<rect x="222" y="536.63" width="9" height="173.87" fill="#8CC1BF" stroke="#3C9693" stroke-width="1.1"/>
<path d="M226.5 530.57V541.59M224 530.57H229M224 541.59H229" stroke="#2F908D" stroke-width="1.25" fill="none" opacity="1"/>
<path d="M226.5 523.26L230.35 530.66L222.65 530.66Z" fill="#17827F"/>
<path d="M225.3 532.44L229.15 539.84L221.45 539.84Z" fill="#17827F"/>
<path d="M227.7 532.9L231.55 540.3L223.85 540.3Z" fill="#17827F"/>
<path d="M225.7 539.32L229.55 546.72L221.85 546.72Z" fill="#17827F"/>
<path d="M226.8 531.98L230.65 539.38L222.95 539.38Z" fill="#17827F"/>
<rect x="236.3" y="669.56" width="9" height="40.94" fill="#FEBF7E" stroke="#FDAA5E" stroke-width="1.1"/>
<path d="M240.8 666.25V671.76M238.3 666.25H243.3M238.3 671.76H243.3" stroke="#FB8F2E" stroke-width="1.25" fill="none" opacity="1"/>
<path d="M240.8 669.62L244.65 662.22L236.95 662.22Z" fill="#FF7F0E"/>
<path d="M241.8 671.45L245.65 664.05L237.95 664.05Z" fill="#FF7F0E"/>
<path d="M239.8 672.83L243.65 665.43L235.95 665.43Z" fill="#FF7F0E"/>
<path d="M240.8 674.21L244.65 666.81L236.95 666.81Z" fill="#FF7F0E"/>
<path d="M241.3 676.04L245.15 668.64L237.45 668.64Z" fill="#FF7F0E"/>
<rect x="250.4" y="699.48" width="9" height="11.02" fill="#72C3A0" stroke="#3BAA7C" stroke-width="1.1"/>
<path d="M254.9 693.43V704.44M252.4 693.43H257.4M252.4 704.44H257.4" stroke="#2FA577" stroke-width="1.25" fill="none" opacity="1"/>
<path d="M253.9 690.28L257.5 693.98L253.9 697.68L250.3 693.98Z" fill="#119C66"/>
<path d="M255.9 690.28L259.5 693.98L255.9 697.68L252.3 693.98Z" fill="#119C66"/>
<path d="M254.9 701.29L258.5 704.99L254.9 708.69L251.3 704.99Z" fill="#119C66"/>
<circle cx="278.7" cy="703.16" r="3.5" fill="#000000"/>
<circle cx="277.6" cy="706.37" r="3.5" fill="#000000"/>
<circle cx="281" cy="706.37" r="3.5" fill="#000000"/>
<circle cx="279.2" cy="707.75" r="3.5" fill="#000000"/>
<rect x="288.7" y="616.04" width="9" height="94.46" fill="#8CC1BF" stroke="#3C9693" stroke-width="1.1"/>
<path d="M293.2 536.08V694.89M290.7 536.08H295.7M290.7 694.89H295.7" stroke="#2F908D" stroke-width="1.25" fill="none" opacity="1"/>
<path d="M293.2 536.2L297.05 543.6L289.35 543.6Z" fill="#17827F"/>
<path d="M293.2 549.79L297.05 557.19L289.35 557.19Z" fill="#17827F"/>
<path d="M293.2 577.05L297.05 584.45L289.35 584.45Z" fill="#17827F"/>
<path d="M294.4 694.83L298.25 702.23L290.55 702.23Z" fill="#17827F"/>
<path d="M292.4 697.86L296.25 705.26L288.55 705.26Z" fill="#17827F"/>
<rect x="303" y="707.38" width="9" height="3.12" fill="#FEBF7E" stroke="#FDAA5E" stroke-width="1.1"/>
<path d="M307.5 705.91V707.75M305 705.91H310M305 707.75H310" stroke="#FB8F2E" stroke-width="1.25" fill="none" opacity="1"/>
<path d="M306.2 710.38L310.05 702.98L302.35 702.98Z" fill="#FF7F0E"/>
<path d="M308.8 710.38L312.65 702.98L304.95 702.98Z" fill="#FF7F0E"/>
<path d="M307.5 710.65L311.35 703.25L303.65 703.25Z" fill="#FF7F0E"/>
<path d="M306.85 711.11L310.7 703.71L303 703.71Z" fill="#FF7F0E"/>
<path d="M308.15 711.3L312 703.9L304.3 703.9Z" fill="#FF7F0E"/>
<rect x="317.1" y="664.6" width="9" height="45.9" fill="#72C3A0" stroke="#3BAA7C" stroke-width="1.1"/>
<path d="M321.6 660.38V667.72M319.1 660.38H324.1M319.1 667.72H324.1" stroke="#2FA577" stroke-width="1.25" fill="none" opacity="1"/>
<path d="M321.6 656.31L325.2 660.01L321.6 663.71L318 660.01Z" fill="#119C66"/>
<path d="M320.8 658.6L324.4 662.3L320.8 666L317.2 662.3Z" fill="#119C66"/>
<path d="M322.4 660.35L326 664.05L322.4 667.75L318.8 664.05Z" fill="#119C66"/>
<path d="M321.6 662.74L325.2 666.44L321.6 670.14L318 666.44Z" fill="#119C66"/>
<path d="M321.9 665.31L325.5 669.01L321.9 672.71L318.3 669.01Z" fill="#119C66"/>
<circle cx="345.4" cy="703.62" r="3.5" fill="#000000"/>
<circle cx="344.3" cy="706.37" r="3.5" fill="#000000"/>
<circle cx="347.7" cy="706.37" r="3.5" fill="#000000"/>
<circle cx="345.9" cy="707.75" r="3.5" fill="#000000"/>
<rect x="355.4" y="568.76" width="9" height="141.74" fill="#8CC1BF" stroke="#3C9693" stroke-width="1.1"/>
<path d="M359.9 553.8V582.62M357.4 553.8H362.4M357.4 582.62H362.4" stroke="#2F908D" stroke-width="1.25" fill="none" opacity="1"/>
<path d="M359.9 547.13L363.75 554.53L356.05 554.53Z" fill="#17827F"/>
<path d="M360.7 559.15L364.55 566.55L356.85 566.55Z" fill="#17827F"/>
<path d="M359.3 563.19L363.15 570.59L355.45 570.59Z" fill="#17827F"/>
<path d="M360.3 565.12L364.15 572.52L356.45 572.52Z" fill="#17827F"/>
<path d="M359.9 588.07L363.75 595.47L356.05 595.47Z" fill="#17827F"/>
<rect x="369.7" y="707.38" width="9" height="3.12" fill="#FEBF7E" stroke="#FDAA5E" stroke-width="1.1"/>
<path d="M374.2 705.91V707.75M371.7 705.91H376.7M371.7 707.75H376.7" stroke="#FB8F2E" stroke-width="1.25" fill="none" opacity="1"/>
<path d="M372.9 710.38L376.75 702.98L369.05 702.98Z" fill="#FF7F0E"/>
<path d="M375.5 710.38L379.35 702.98L371.65 702.98Z" fill="#FF7F0E"/>
<path d="M374.2 710.65L378.05 703.25L370.35 703.25Z" fill="#FF7F0E"/>
<path d="M373.55 711.11L377.4 703.71L369.7 703.71Z" fill="#FF7F0E"/>
<path d="M374.85 711.3L378.7 703.9L371 703.9Z" fill="#FF7F0E"/>
<rect x="383.8" y="706.92" width="9" height="3.58" fill="#72C3A0" stroke="#3BAA7C" stroke-width="1.1"/>
<path d="M388.3 705.45V707.29M385.8 705.45H390.8M385.8 707.29H390.8" stroke="#2FA577" stroke-width="1.25" fill="none" opacity="1"/>
<path d="M388.3 702.76L391.9 706.46L388.3 710.16L384.7 706.46Z" fill="#119C66"/>
<path d="M386.9 704.05L390.5 707.75L386.9 711.45L383.3 707.75Z" fill="#119C66"/>
<path d="M389.7 704.05L393.3 707.75L389.7 711.45L386.1 707.75Z" fill="#119C66"/>
<path d="M387.6 704.6L391.2 708.3L387.6 712L384 708.3Z" fill="#119C66"/>
<path d="M389 704.6L392.6 708.3L389 712L385.4 708.3Z" fill="#119C66"/>
<circle cx="411" cy="705.91" r="3.5" fill="#000000"/>
<circle cx="414.2" cy="706.83" r="3.5" fill="#000000"/>
<circle cx="412.6" cy="707.29" r="3.5" fill="#000000"/>
<circle cx="411.8" cy="706.37" r="3.5" fill="#000000"/>
<circle cx="413.4" cy="707.01" r="3.5" fill="#000000"/>
<rect x="422.1" y="574.73" width="9" height="135.77" fill="#8CC1BF" stroke="#3C9693" stroke-width="1.1"/>
<path d="M426.6 539.84V608.51M424.1 539.84H429.1M424.1 608.51H429.1" stroke="#2F908D" stroke-width="1.25" fill="none" opacity="1"/>
<path d="M426 538.77L429.85 546.17L422.15 546.17Z" fill="#17827F"/>
<path d="M427.4 538.77L431.25 546.17L423.55 546.17Z" fill="#17827F"/>
<path d="M426.6 561.72L430.45 569.12L422.75 569.12Z" fill="#17827F"/>
<path d="M426.6 595.05L430.45 602.45L422.75 602.45Z" fill="#17827F"/>
<path d="M426.6 615.98L430.45 623.38L422.75 623.38Z" fill="#17827F"/>
<rect x="436.4" y="664.6" width="9" height="45.9" fill="#FEBF7E" stroke="#FDAA5E" stroke-width="1.1"/>
<path d="M440.9 657.44V670.66M438.4 657.44H443.4M438.4 670.66H443.4" stroke="#FB8F2E" stroke-width="1.25" fill="none" opacity="1"/>
<path d="M440.9 655.11L444.75 647.71L437.05 647.71Z" fill="#FF7F0E"/>
<path d="M440.1 672.1L443.95 664.7L436.25 664.7Z" fill="#FF7F0E"/>
<path d="M441.7 674.21L445.55 666.81L437.85 666.81Z" fill="#FF7F0E"/>
<path d="M440.9 676.04L444.75 668.64L437.05 668.64Z" fill="#FF7F0E"/>
<path d="M440.9 680.08L444.75 672.68L437.05 672.68Z" fill="#FF7F0E"/>
<rect x="450.5" y="692.51" width="9" height="17.99" fill="#72C3A0" stroke="#3BAA7C" stroke-width="1.1"/>
<path d="M455 684.15V699.76M452.5 684.15H457.5M452.5 699.76H457.5" stroke="#2FA577" stroke-width="1.25" fill="none" opacity="1"/>
<path d="M455 676.51L458.6 680.21L455 683.91L451.4 680.21Z" fill="#119C66"/>
<path d="M455 684.77L458.6 688.47L455 692.17L451.4 688.47Z" fill="#119C66"/>
<path d="M454.4 689.36L458 693.06L454.4 696.76L450.8 693.06Z" fill="#119C66"/>
<path d="M455.6 693.03L459.2 696.73L455.6 700.43L452 696.73Z" fill="#119C66"/>
<path d="M455 696.7L458.6 700.4L455 704.1L451.4 700.4Z" fill="#119C66"/>
<circle cx="478.3" cy="704.99" r="3.5" fill="#000000"/>
<circle cx="480.3" cy="704.99" r="3.5" fill="#000000"/>
<circle cx="477.7" cy="706.83" r="3.5" fill="#000000"/>
<circle cx="480.9" cy="706.83" r="3.5" fill="#000000"/>
<circle cx="479.3" cy="707.75" r="3.5" fill="#000000"/>
<rect x="488.8" y="707.84" width="9" height="2.66" fill="#8CC1BF" stroke="#3C9693" stroke-width="1.1"/>
<path d="M493.3 706.55V708.02M490.8 706.55H495.8M490.8 708.02H495.8" stroke="#2F908D" stroke-width="1.25" fill="none" opacity="1"/>
<path d="M493.3 701.35L497.15 708.75L489.45 708.75Z" fill="#17827F"/>
<path d="M492.1 702.45L495.95 709.85L488.25 709.85Z" fill="#17827F"/>
<path d="M494.5 702.45L498.35 709.85L490.65 709.85Z" fill="#17827F"/>
<path d="M493.3 703L497.15 710.4L489.45 710.4Z" fill="#17827F"/>
<rect x="503.1" y="706.46" width="9" height="4.04" fill="#FEBF7E" stroke="#FDAA5E" stroke-width="1.1"/>
<path d="M507.6 704.99V706.83M505.1 704.99H510.1M505.1 706.83H510.1" stroke="#FB8F2E" stroke-width="1.25" fill="none" opacity="1"/>
<path d="M506.3 708.91L510.15 701.51L502.45 701.51Z" fill="#FF7F0E"/>
<path d="M508.9 708.91L512.75 701.51L505.05 701.51Z" fill="#FF7F0E"/>
<path d="M507.6 709.18L511.45 701.78L503.75 701.78Z" fill="#FF7F0E"/>
<path d="M506.95 709.64L510.8 702.24L503.1 702.24Z" fill="#FF7F0E"/>
<path d="M508.25 709.83L512.1 702.43L504.4 702.43Z" fill="#FF7F0E"/>
<rect x="517.2" y="706.92" width="9" height="3.58" fill="#72C3A0" stroke="#3BAA7C" stroke-width="1.1"/>
<path d="M521.7 705.45V707.29M519.2 705.45H524.2M519.2 707.29H524.2" stroke="#2FA577" stroke-width="1.25" fill="none" opacity="1"/>
<path d="M521.7 702.03L525.3 705.73L521.7 709.43L518.1 705.73Z" fill="#119C66"/>
<path d="M520.3 703.31L523.9 707.01L520.3 710.71L516.7 707.01Z" fill="#119C66"/>
<path d="M523.1 703.31L526.7 707.01L523.1 710.71L519.5 707.01Z" fill="#119C66"/>
<path d="M521 703.86L524.6 707.56L521 711.26L517.4 707.56Z" fill="#119C66"/>
<path d="M522.4 703.86L526 707.56L522.4 711.26L518.8 707.56Z" fill="#119C66"/>
<path d="M69.5 481V710.5H532" stroke="#000" stroke-width="1.4" fill="none" stroke-linecap="square"/>
<path d="M63.7 710.5H69.5" stroke="#000" stroke-width="1.4"/>
<text x="63.1" y="716.8" font-size="18" text-anchor="end">0</text>
<path d="M63.7 664.6H69.5" stroke="#000" stroke-width="1.4"/>
<text x="63.1" y="670.9" font-size="18" text-anchor="end">500</text>
<path d="M63.7 618.7H69.5" stroke="#000" stroke-width="1.4"/>
<text x="63.1" y="625" font-size="18" text-anchor="end">1000</text>
<path d="M63.7 572.8H69.5" stroke="#000" stroke-width="1.4"/>
<text x="63.1" y="579.1" font-size="18" text-anchor="end">1500</text>
<path d="M63.7 526.9H69.5" stroke="#000" stroke-width="1.4"/>
<text x="63.1" y="533.2" font-size="18" text-anchor="end">2000</text>
<path d="M63.7 481H69.5" stroke="#000" stroke-width="1.4"/>
<text x="63.1" y="487.3" font-size="18" text-anchor="end">2500</text>
<path d="M100.2 710.5V715.8" stroke="#000" stroke-width="1.4"/>
<text x="100.6" y="733" font-size="18" text-anchor="middle">Pru p 3</text>
<path d="M166.9 710.5V715.8" stroke="#000" stroke-width="1.4"/>
<text x="167.3" y="733" font-size="18" text-anchor="middle">Cor a 8</text>
<path d="M233.6 710.5V715.8" stroke="#000" stroke-width="1.4"/>
<text x="234" y="733" font-size="18" text-anchor="middle">Ara h 9</text>
<path d="M300.3 710.5V715.8" stroke="#000" stroke-width="1.4"/>
<text x="300.7" y="733" font-size="18" text-anchor="middle">Par j 2</text>
<path d="M367 710.5V715.8" stroke="#000" stroke-width="1.4"/>
<text x="367.4" y="733" font-size="18" text-anchor="middle">Tri a 14</text>
<path d="M433.7 710.5V715.8" stroke="#000" stroke-width="1.4"/>
<text x="434.1" y="733" font-size="18" text-anchor="middle">Pla a 3</text>
<path d="M500.4 710.5V715.8" stroke="#000" stroke-width="1.4"/>
<text x="500.8" y="733" font-size="18" text-anchor="middle">Ole e 7</text>
<text x="300.4" y="756.6" font-size="18" text-anchor="middle">Allergen</text>
<text transform="translate(13.1 655.2) rotate(-90)" font-size="18">Normalized A<tspan font-size="12.7" dy="5">450</tspan></text>
<path d="M78.6 513.2H93.8" stroke="#000" stroke-width="1.4"/>
<path d="M71.3 500.5L71.3 507.5M68.27 502.25L74.33 505.75M68.27 505.75L74.33 502.25" stroke="#000" stroke-width="1.4" fill="none"/>
<path d="M80.6 500.5L80.6 507.5M77.57 502.25L83.63 505.75M77.57 505.75L83.63 502.25" stroke="#000" stroke-width="1.4" fill="none"/>
<path d="M89.9 500.5L89.9 507.5M86.87 502.25L92.93 505.75M86.87 505.75L92.93 502.25" stroke="#000" stroke-width="1.4" fill="none"/>
<path d="M99.2 500.5L99.2 507.5M96.17 502.25L102.23 505.75M96.17 505.75L102.23 502.25" stroke="#000" stroke-width="1.4" fill="none"/>
<path d="M78.6 484.8H108.1" stroke="#000" stroke-width="1.4"/>
<path d="M78.45 472.1L78.45 479.1M75.42 473.85L81.48 477.35M75.42 477.35L81.48 473.85" stroke="#000" stroke-width="1.4" fill="none"/>
<path d="M87.75 472.1L87.75 479.1M84.72 473.85L90.78 477.35M84.72 477.35L90.78 473.85" stroke="#000" stroke-width="1.4" fill="none"/>
<path d="M97.05 472.1L97.05 479.1M94.02 473.85L100.08 477.35M94.02 477.35L100.08 473.85" stroke="#000" stroke-width="1.4" fill="none"/>
<path d="M106.35 472.1L106.35 479.1M103.32 473.85L109.38 477.35M103.32 477.35L109.38 473.85" stroke="#000" stroke-width="1.4" fill="none"/>
<path d="M145.3 513.2H160.5" stroke="#000" stroke-width="1.4"/>
<path d="M138 500.5L138 507.5M134.97 502.25L141.03 505.75M134.97 505.75L141.03 502.25" stroke="#000" stroke-width="1.4" fill="none"/>
<path d="M147.3 500.5L147.3 507.5M144.27 502.25L150.33 505.75M144.27 505.75L150.33 502.25" stroke="#000" stroke-width="1.4" fill="none"/>
<path d="M156.6 500.5L156.6 507.5M153.57 502.25L159.63 505.75M153.57 505.75L159.63 502.25" stroke="#000" stroke-width="1.4" fill="none"/>
<path d="M165.9 500.5L165.9 507.5M162.87 502.25L168.93 505.75M162.87 505.75L168.93 502.25" stroke="#000" stroke-width="1.4" fill="none"/>
<path d="M145.3 484.8H174.8" stroke="#000" stroke-width="1.4"/>
<path d="M160.15 472.1L160.15 479.1M157.12 473.85L163.18 477.35M157.12 477.35L163.18 473.85" stroke="#000" stroke-width="1.4" fill="none"/>
<path d="M212 513.2H227.2" stroke="#000" stroke-width="1.4"/>
<path d="M204.7 500.5L204.7 507.5M201.67 502.25L207.73 505.75M201.67 505.75L207.73 502.25" stroke="#000" stroke-width="1.4" fill="none"/>
<path d="M214 500.5L214 507.5M210.97 502.25L217.03 505.75M210.97 505.75L217.03 502.25" stroke="#000" stroke-width="1.4" fill="none"/>
<path d="M223.3 500.5L223.3 507.5M220.27 502.25L226.33 505.75M220.27 505.75L226.33 502.25" stroke="#000" stroke-width="1.4" fill="none"/>
<path d="M232.6 500.5L232.6 507.5M229.57 502.25L235.63 505.75M229.57 505.75L235.63 502.25" stroke="#000" stroke-width="1.4" fill="none"/>
<path d="M212 484.8H241.5" stroke="#000" stroke-width="1.4"/>
<path d="M226.85 472.1L226.85 479.1M223.82 473.85L229.88 477.35M223.82 477.35L229.88 473.85" stroke="#000" stroke-width="1.4" fill="none"/>
<path d="M278.7 513.2H293.9" stroke="#000" stroke-width="1.4"/>
<path d="M271.4 500.5L271.4 507.5M268.37 502.25L274.43 505.75M268.37 505.75L274.43 502.25" stroke="#000" stroke-width="1.4" fill="none"/>
<path d="M280.7 500.5L280.7 507.5M277.67 502.25L283.73 505.75M277.67 505.75L283.73 502.25" stroke="#000" stroke-width="1.4" fill="none"/>
<path d="M290 500.5L290 507.5M286.97 502.25L293.03 505.75M286.97 505.75L293.03 502.25" stroke="#000" stroke-width="1.4" fill="none"/>
<path d="M299.3 500.5L299.3 507.5M296.27 502.25L302.33 505.75M296.27 505.75L302.33 502.25" stroke="#000" stroke-width="1.4" fill="none"/>
<path d="M278.7 484.8H322.2" stroke="#000" stroke-width="1.4"/>
<path d="M295.55 472.1L295.55 479.1M292.52 473.85L298.58 477.35M292.52 477.35L298.58 473.85" stroke="#000" stroke-width="1.4" fill="none"/>
<path d="M304.85 472.1L304.85 479.1M301.82 473.85L307.88 477.35M301.82 477.35L307.88 473.85" stroke="#000" stroke-width="1.4" fill="none"/>
<path d="M345.4 513.2H360.6" stroke="#000" stroke-width="1.4"/>
<path d="M338.1 500.5L338.1 507.5M335.07 502.25L341.13 505.75M335.07 505.75L341.13 502.25" stroke="#000" stroke-width="1.4" fill="none"/>
<path d="M347.4 500.5L347.4 507.5M344.37 502.25L350.43 505.75M344.37 505.75L350.43 502.25" stroke="#000" stroke-width="1.4" fill="none"/>
<path d="M356.7 500.5L356.7 507.5M353.67 502.25L359.73 505.75M353.67 505.75L359.73 502.25" stroke="#000" stroke-width="1.4" fill="none"/>
<path d="M366 500.5L366 507.5M362.97 502.25L369.03 505.75M362.97 505.75L369.03 502.25" stroke="#000" stroke-width="1.4" fill="none"/>
<path d="M412.1 513.2H427.3" stroke="#000" stroke-width="1.4"/>
<path d="M404.8 500.5L404.8 507.5M401.77 502.25L407.83 505.75M401.77 505.75L407.83 502.25" stroke="#000" stroke-width="1.4" fill="none"/>
<path d="M414.1 500.5L414.1 507.5M411.07 502.25L417.13 505.75M411.07 505.75L417.13 502.25" stroke="#000" stroke-width="1.4" fill="none"/>
<path d="M423.4 500.5L423.4 507.5M420.37 502.25L426.43 505.75M420.37 505.75L426.43 502.25" stroke="#000" stroke-width="1.4" fill="none"/>
<path d="M432.7 500.5L432.7 507.5M429.67 502.25L435.73 505.75M429.67 505.75L435.73 502.25" stroke="#000" stroke-width="1.4" fill="none"/>
<path d="M412.1 484.8H441.6" stroke="#000" stroke-width="1.4"/>
<path d="M421.95 472.1L421.95 479.1M418.92 473.85L424.98 477.35M418.92 477.35L424.98 473.85" stroke="#000" stroke-width="1.4" fill="none"/>
<path d="M431.25 472.1L431.25 479.1M428.22 473.85L434.28 477.35M428.22 477.35L434.28 473.85" stroke="#000" stroke-width="1.4" fill="none"/>
<text x="556.6" y="582.5" font-size="17.6">PBS</text>
<circle cx="543.4" cy="577" r="3.5" fill="#000"/>
<text x="556.6" y="606.9" font-size="17.6">cnsLTP1-mRNA</text>
<path d="M543.4 598L547.25 605.4L539.55 605.4Z" fill="#189BB9"/>
<text x="556.6" y="631.3" font-size="17.6">Prup3-mRNA</text>
<path d="M543.4 629.4L547.25 622L539.55 622Z" fill="#FF7F0E"/>
<text x="556.6" y="655.7" font-size="17.6">Parj2-mRNA</text>
<path d="M543.4 646.2L547 649.9L543.4 653.6L539.8 649.9Z" fill="#119C66"/>
</svg></body></html>
